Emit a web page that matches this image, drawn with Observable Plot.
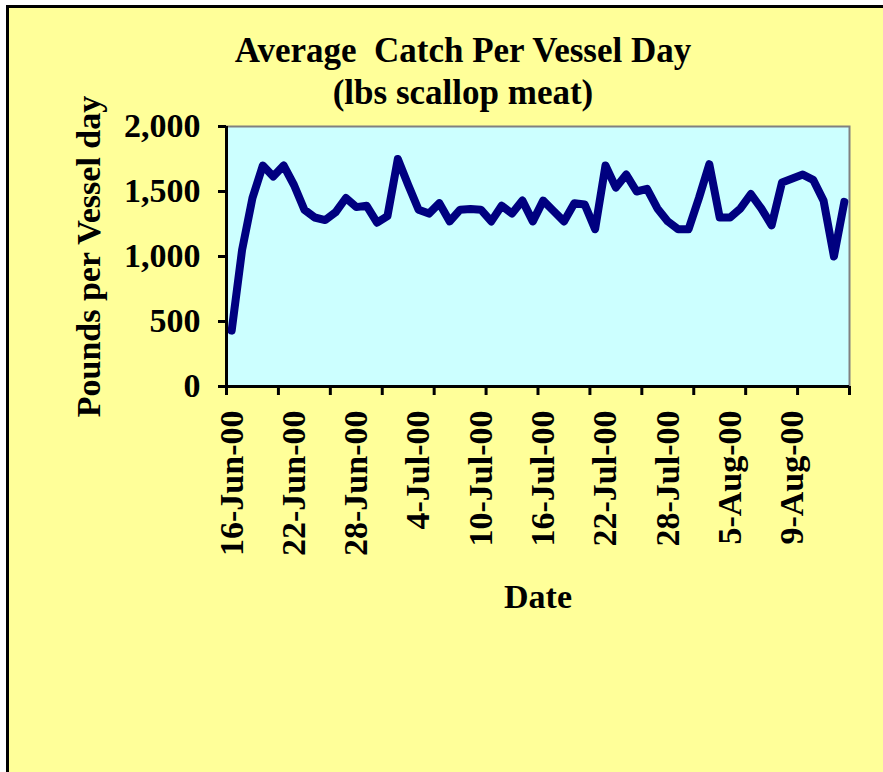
<!DOCTYPE html>
<html>
<head>
<meta charset="utf-8">
<script src="https://cdn.jsdelivr.net/npm/d3@7"></script>
<script src="https://cdn.jsdelivr.net/npm/@observablehq/plot@0.6"></script>
<style>
  html, body { margin: 0; padding: 0; background: #ffffff; overflow: hidden; width: 883px; height: 772px; }
  #panel { position: absolute; left: 6px; top: 5px; width: 900px; height: 800px; background: #FFFF99;
           border-left: 3px solid #000; border-top: 3px solid #000; }
  #chart { position: absolute; left: 0; top: 0; }
  .title { position: absolute; left: 463px; top: 30px; transform: translateX(-50%);
           font: bold 35px/42px "Liberation Serif", "Times New Roman", serif; text-align: center;
           white-space: nowrap; color: #000; }
</style>
</head>
<body>
<div id="panel"></div>
<div class="title">Average&nbsp; Catch Per Vessel Day<br>(lbs scallop meat)</div>
<div id="chart"></div>
<script>
// Date labels shown on the category axis, and the category slot each one sits on
const tickLabels = ["16-Jun-00", "22-Jun-00", "28-Jun-00", "4-Jul-00", "10-Jul-00",
                    "16-Jul-00", "22-Jul-00", "28-Jul-00", "5-Aug-00", "9-Aug-00"];
const tickLabelCategory = [0, 6, 12, 18, 24, 30, 36, 42, 48, 54];
// Tick marks (category boundaries)
const tickMarkBoundary = [0, 5, 10, 15, 20, 25, 30, 35, 40, 45, 50, 55, 60];
// Average catch per vessel day (lbs scallop meat), one per category
const catchPerVesselDay = [
  430, 1050, 1450, 1700, 1615, 1700, 1550, 1360, 1300, 1280,
  1340, 1450, 1380, 1390, 1260, 1310, 1750, 1550, 1360, 1330,
  1410, 1270, 1360, 1365, 1360, 1270, 1390, 1330, 1430, 1270,
  1430, 1350, 1270, 1410, 1400, 1210, 1700, 1530, 1630, 1500,
  1520, 1370, 1270, 1210, 1210, 1450, 1710, 1300, 1300, 1370,
  1480, 1370, 1240, 1570, 1600, 1630, 1590, 1430, 1000, 1420
];
const yTicks = [0, 500, 1000, 1500, 2000];

const nCat = catchPerVesselDay.length;
const rows = catchPerVesselDay.map((v, i) => ({slot: i + 0.5, value: v}));
const labelSlots = tickLabelCategory.map(c => c + 0.5);
const font = "'Liberation Serif', 'Times New Roman', serif";

const chart = Plot.plot({
  width: 883,
  height: 772,
  marginLeft: 226,
  marginRight: 34,
  marginTop: 126,
  marginBottom: 386,
  style: {background: "transparent", fontFamily: font, fontSize: "34px", fontWeight: "bold", color: "#000", overflow: "visible"},
  x: {domain: [0, nCat]},
  y: {domain: [0, 2000]},
  marks: [
    Plot.frame({fill: "#CCFFFF"}),
    Plot.frame({stroke: "#808080", strokeWidth: 2}),
    Plot.line(rows, {x: "slot", y: "value", stroke: "#000080", strokeWidth: 8, strokeLinejoin: "round"}),
    Plot.ruleX([0], {stroke: "#000", strokeWidth: 3}),
    Plot.ruleY([0], {stroke: "#000", strokeWidth: 3}),
    Plot.axisY({ticks: yTicks, tickSize: 8, tickPadding: 18, strokeWidth: 3, strokeOpacity: 1,
                tickFormat: d3.format(","), fontSize: 34,
                label: "Pounds per Vessel day", labelAnchor: "center", labelArrow: "none", labelOffset: 151}),
    Plot.axisX({ticks: tickMarkBoundary, tickSize: 9, strokeWidth: 3, strokeOpacity: 1,
                tickFormat: () => "", label: null}),
    Plot.axisX({ticks: labelSlots, tickSize: 0, tickPadding: 24, rotate: -90, fontSize: 34,
                textAnchor: "end", lineAnchor: "middle",
                tickFormat: d => tickLabels[labelSlots.indexOf(d)],
                label: "Date", labelAnchor: "center", labelArrow: "none", labelOffset: 221})
  ]
});
document.getElementById("chart").appendChild(chart);
</script>
</body>
</html>
